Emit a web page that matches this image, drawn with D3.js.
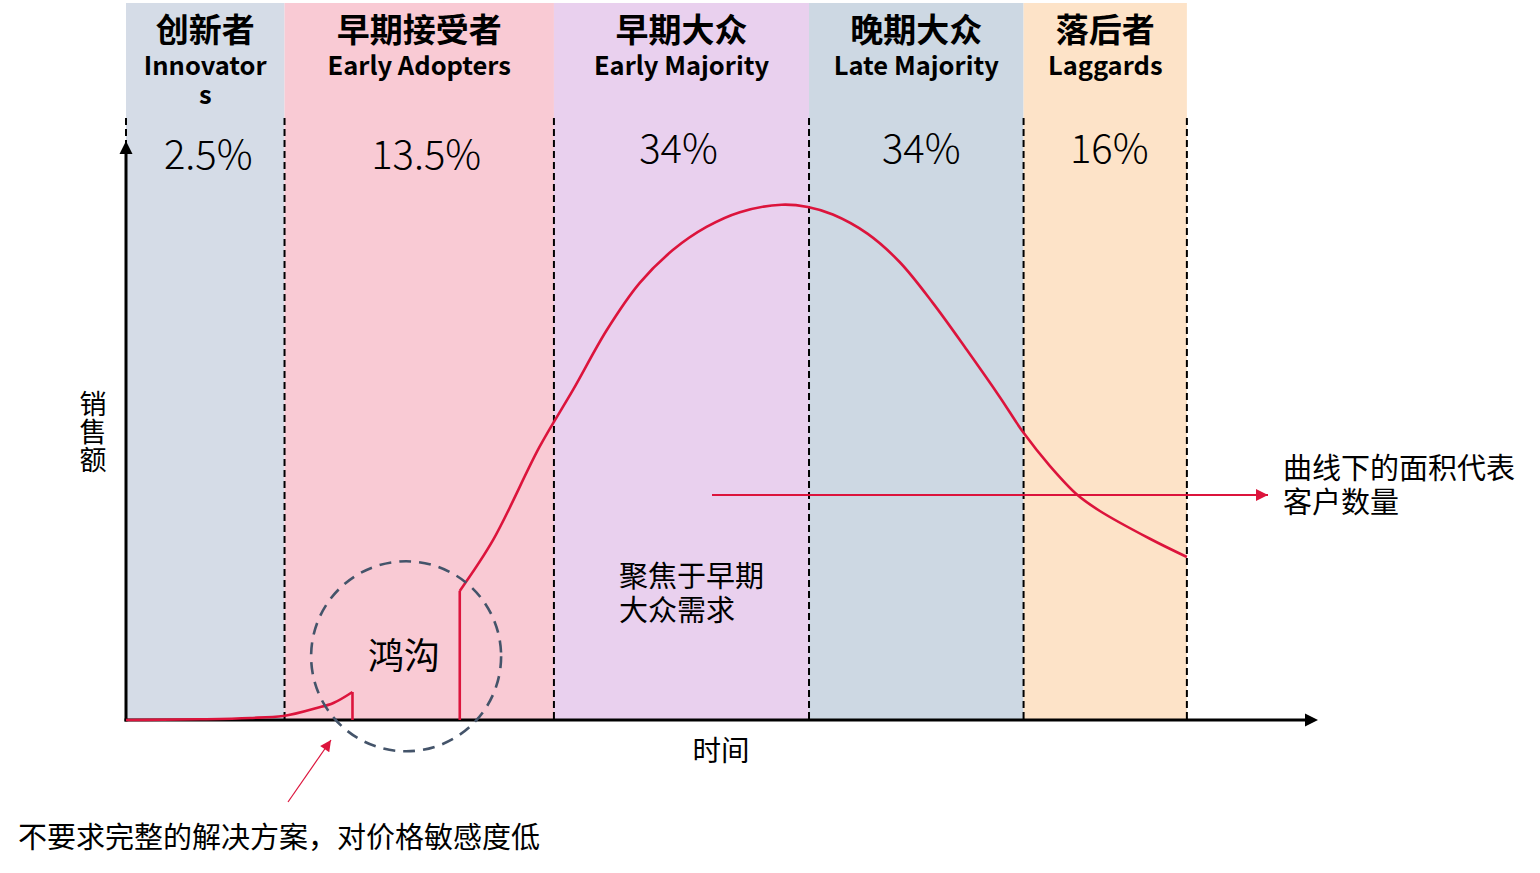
<!DOCTYPE html>
<html><head><meta charset="utf-8">
<script src="https://cdn.jsdelivr.net/npm/d3@7"></script>
<style>body{margin:0;background:#fff} svg{display:block}</style>
</head><body><svg id="c" width="1540" height="873"></svg>
<script>
// ---- data ----
const segmentsCN = ["创新者","早期接受者","早期大众","晚期大众","落后者"];
const segmentsEN = [["Innovator","s"],["Early Adopters"],["Early Majority"],["Late Majority"],["Laggards"]];
const shareLabels = ["2.5%","13.5%","34%","34%","16%"];
const bandBounds = [0, 13.3, 35.9, 57.3, 75.3, 89.0];
const earlyCurve = [[0,0],[6.2,0.12],[10.4,0.35],[13.2,0.7],[16.0,2.07],[17.4,2.94],[19.0,4.84]];
const earlyDrop = [[19.0,4.84],[19.0,0]];
const mainRise = [[28.0,0],[28.0,22.3]];
const mainCurve = [[28.0,22.3],[30.8,31.1],[34.7,47.2],[37.5,57.0],[40.35,67.4],[43.1,75.5],[45.9,81.2],[48.7,85.15],[51.5,87.7],[55.0,89.0],[57.2,88.6],[59.3,87.3],[62.2,84.0],[64.9,79.1],[67.7,72.0],[70.55,63.9],[73.3,55.8],[75.3,49.6],[77.5,43.9],[79.8,38.9],[81.7,36.1],[85.9,31.3],[89.0,28.15]];
const chasm = {x: 23.5, y: 11.0};
const xLabel = "时间", yLabel = "销售额";
const chasmLabel = "鸿沟";
const focusLabel = ["聚焦于早期","大众需求"];
const areaLabel = ["曲线下的面积代表","客户数量"];
const chasmNote = "不要求完整的解决方案，对价格敏感度低";

// ---- setup ----
const svg = d3.select("#c");
const FONT = "'Noto Sans CJK SC','Microsoft YaHei',sans-serif";
const RED = "#dc143c";
const bandColors = ["#d5dce7","#f9cad4","#e9d0ee","#cdd8e3","#fde3c8"];
const x = d3.scaleLinear().domain([0,100]).range([126,1318]);
const y = d3.scaleLinear().domain([0,100]).range([720,141]);
const bandTop = 3;

function multiline(g, lines, xPos, yPos, lh) {
  const t = g.append("text").attr("x", xPos).attr("y", yPos);
  lines.forEach((s, k) => t.append("tspan").attr("x", xPos).attr("dy", k === 0 ? 0 : lh).text(s));
  return t;
}

// bands
const bands = d3.range(5).map(i => ({i, x0: bandBounds[i], x1: bandBounds[i+1]}));
svg.append("g").selectAll("rect").data(bands).join("rect")
  .attr("x", d => x(d.x0)).attr("y", bandTop)
  .attr("width", d => x(d.x1) - x(d.x0)).attr("height", y(0) - bandTop)
  .attr("fill", d => bandColors[d.i]);

// dashed boundaries
svg.append("g").selectAll("line").data(bandBounds).join("line")
  .attr("x1", d => x(d)).attr("x2", d => x(d))
  .attr("y1", 118).attr("y2", y(0))
  .attr("stroke", "#000").attr("stroke-width", 2).attr("stroke-dasharray", "7,4");

// header texts
const hdr = svg.append("g").attr("font-family", FONT).attr("text-anchor", "middle").attr("fill", "#000");
const pctDx = [3, 7, -3, 5, 4];
bands.forEach(d => {
  const cx = (x(d.x0) + x(d.x1)) / 2;
  hdr.append("text").attr("x", cx).attr("y", 42).attr("font-size", 33).attr("font-weight", 700).text(segmentsCN[d.i]);
  multiline(hdr, segmentsEN[d.i], cx, 75, 29).attr("font-size", 25.5).attr("font-weight", 700);
  hdr.append("text").attr("x", cx + pctDx[d.i])
    .attr("y", d.i < 2 ? 169 : 163).attr("font-size", 40).attr("font-weight", 300).text(shareLabels[d.i]);
});

// axes (no ticks)
const xAxis = d3.axisBottom(x).ticks(0).tickSizeOuter(0);
const gx = svg.append("g").attr("transform", `translate(0,${y(0)})`).call(xAxis);
gx.select(".domain").attr("stroke", "#000").attr("stroke-width", 3).attr("d", `M${x(0)-1.5},0H${x(100)-10}`);
svg.append("path").attr("d", `M${x(100)},${y(0)}L${x(100)-13},${y(0)-6.5}L${x(100)-13},${y(0)+6.5}Z`).attr("fill", "#000");
const yAxis = d3.axisLeft(y).ticks(0).tickSizeOuter(0);
const gy = svg.append("g").attr("transform", `translate(${x(0)},0)`).call(yAxis);
gy.select(".domain").attr("stroke", "#000").attr("stroke-width", 3).attr("d", `M0,${y(0)+1.5}V${y(100)+10}`);
svg.append("path").attr("d", `M${x(0)},${y(100)}L${x(0)-6.5},${y(100)+13}L${x(0)+6.5},${y(100)+13}Z`).attr("fill", "#000");

// curves
const lineLin = d3.line().x(d => x(d[0])).y(d => y(d[1]));
const lineMono = d3.line().x(d => x(d[0])).y(d => y(d[1])).curve(d3.curveMonotoneX);
const lineCurve = d3.line().x(d => x(d[0])).y(d => y(d[1])).curve(d3.curveCatmullRom.alpha(0.5));
const cg = svg.append("g").attr("fill", "none").attr("stroke", RED).attr("stroke-width", 2.6);
cg.append("path").attr("d", lineMono(earlyCurve));
cg.append("path").attr("d", lineLin(earlyDrop));
cg.append("path").attr("d", lineLin(mainRise));
cg.append("path").attr("d", lineCurve(mainCurve)).attr("stroke-linejoin", "round");

// chasm circle
svg.append("circle").attr("cx", x(chasm.x)).attr("cy", y(chasm.y)).attr("r", 95)
  .attr("fill", "none").attr("stroke", "#44546a").attr("stroke-width", 2.6).attr("stroke-dasharray", "12,8");
svg.append("text").attr("x", x(chasm.x) - 2).attr("y", y(chasm.y) + 13)
  .attr("font-family", FONT).attr("font-size", 36).attr("text-anchor", "middle").text(chasmLabel);

// note arrow (chasm)
const defs = svg.append("defs");
defs.append("marker").attr("id", "ah").attr("viewBox", "0 0 10 10").attr("refX", 10).attr("refY", 5)
  .attr("markerWidth", 14).attr("markerHeight", 11).attr("markerUnits", "userSpaceOnUse").attr("orient", "auto")
  .append("path").attr("d", "M0,0L10,5L0,10Z").attr("fill", RED);
svg.append("line").attr("x1", 288).attr("y1", 802).attr("x2", 331).attr("y2", 740)
  .attr("stroke", RED).attr("stroke-width", 1.2).attr("marker-end", "url(#ah)");
svg.append("text").attr("x", 18).attr("y", 848).attr("font-family", FONT).attr("font-size", 29).text(chasmNote);

// area arrow
defs.append("marker").attr("id", "ah2").attr("viewBox", "0 0 10 10").attr("refX", 10).attr("refY", 5)
  .attr("markerWidth", 15).attr("markerHeight", 12).attr("markerUnits", "userSpaceOnUse").attr("orient", "auto")
  .append("path").attr("d", "M0,0L10,5L0,10Z").attr("fill", RED);
svg.append("line").attr("x1", 712).attr("y1", 495).attr("x2", 1268).attr("y2", 495)
  .attr("stroke", RED).attr("stroke-width", 2.2).attr("marker-end", "url(#ah2)");
const ag = svg.append("g").attr("font-family", FONT).attr("font-size", 29);
multiline(ag, areaLabel, 1283, 479, 34);

// focus label
const fg = svg.append("g").attr("font-family", FONT).attr("font-size", 29);
multiline(fg, focusLabel, 619, 587, 34);

// axis titles
svg.append("text").attr("x", 721).attr("y", 761).attr("font-family", FONT).attr("font-size", 28.5)
  .attr("text-anchor", "middle").text(xLabel);
svg.append("text").attr("x", 93).attr("y", 390).attr("font-family", FONT).attr("font-size", 27)
  .style("writing-mode", "vertical-rl").style("text-orientation", "upright")
  .attr("letter-spacing", 1).text(yLabel);
</script></body></html>
